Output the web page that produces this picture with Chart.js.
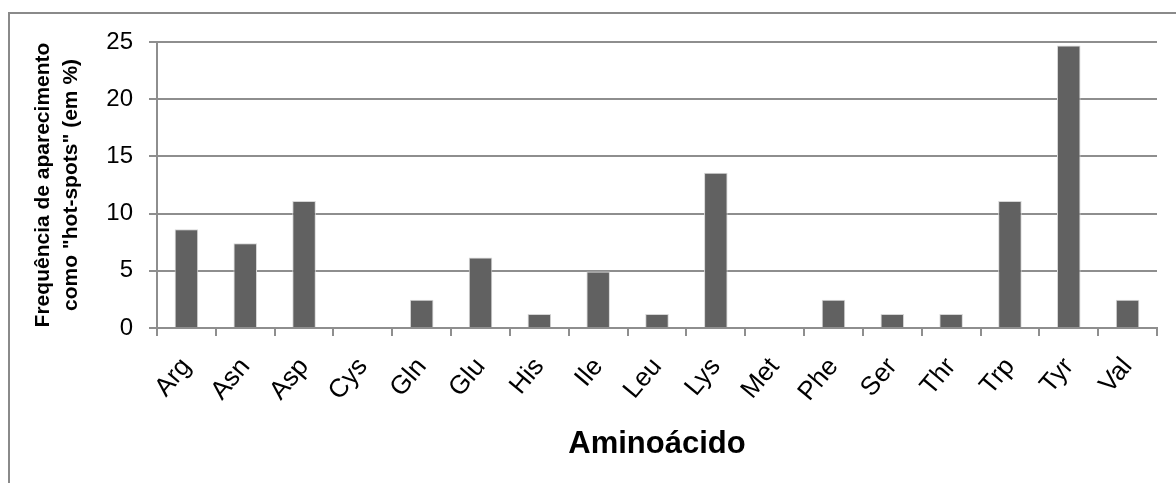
<!DOCTYPE html>
<html>
<head>
<meta charset="utf-8">
<script src="https://cdn.jsdelivr.net/npm/chart.js@4"></script>
<style>
  html, body { margin: 0; padding: 0; background: #fff; overflow: hidden; }
  #wrap { position: relative; width: 1176px; height: 483px; }
  #frame { position: absolute; left: 8px; top: 12px; width: 1200px; height: 500px; border: 2px solid #8a8a8a; box-sizing: border-box; }
  canvas { position: absolute; left: 0; top: 0; }
</style>
</head>
<body>
<div id="wrap">
  <div id="frame"></div>
  <canvas id="hotspotChart" width="1176" height="483"></canvas>
</div>
<script>
// amino acids and their share of hot-spot occurrences (%)
const aminoAcids = ['Arg', 'Asn', 'Asp', 'Cys', 'Gln', 'Glu', 'His', 'Ile', 'Leu', 'Lys', 'Met', 'Phe', 'Ser', 'Thr', 'Trp', 'Tyr', 'Val'];
const frequencies = [8.64, 7.41, 11.11, 0, 2.47, 6.17, 1.23, 4.94, 1.23, 13.58, 0, 2.47, 1.23, 1.23, 11.11, 24.69, 2.47];
const yTicks = [0, 5, 10, 15, 20, 25];

const yTitle = ['Frequência de aparecimento', 'como "hot-spots" (em %)'];
const xTitle = 'Aminoácido';

const gridColor = '#8e8e8e';
const fontFamily = '"Liberation Sans", Arial, sans-serif';

const ctx = document.getElementById('hotspotChart').getContext('2d');
new Chart(ctx, {
  type: 'bar',
  data: {
    labels: aminoAcids,
    datasets: [{
      label: 'Hot-spots',
      data: frequencies,
      backgroundColor: '#616161',
      borderColor: '#d6d6d6',
      borderWidth: 1,
      barPercentage: 0.4,
      categoryPercentage: 1
    }]
  },
  options: {
    responsive: false,
    animation: false,
    layout: {
      padding: { left: 29, top: 42, right: 19, bottom: 20 }
    },
    plugins: {
      legend: { display: false },
      tooltip: { enabled: false }
    },
    scales: {
      x: {
        grid: {
          offset: true,
          drawOnChartArea: false,
          drawTicks: true,
          tickLength: 8,
          color: gridColor,
          lineWidth: 2
        },
        border: { color: gridColor, width: 2 },
        ticks: {
          minRotation: 50,
          maxRotation: 50,
          padding: 16,
          color: '#000',
          font: { family: fontFamily, size: 26 }
        },
        title: {
          display: true,
          text: xTitle,
          color: '#000',
          padding: 0,
          font: { family: fontFamily, size: 31, weight: 'bold' }
        },
        afterFit: (scale) => { scale.height = 135; }
      },
      y: {
        min: 0,
        max: 25,
        afterBuildTicks: (scale) => { scale.ticks = yTicks.map(v => ({ value: v })); },
        grid: {
          color: gridColor,
          lineWidth: 2,
          tickLength: 8
        },
        border: { color: gridColor, width: 2 },
        ticks: {
          padding: 16,
          color: '#000',
          font: { family: fontFamily, size: 24 }
        },
        title: {
          display: true,
          text: yTitle,
          color: '#000',
          padding: 0,
          font: { family: fontFamily, size: 21, weight: 'bold', lineHeight: 1.33 }
        },
        afterFit: (scale) => { scale.width = 128; }
      }
    }
  }
});
</script>
</body>
</html>
